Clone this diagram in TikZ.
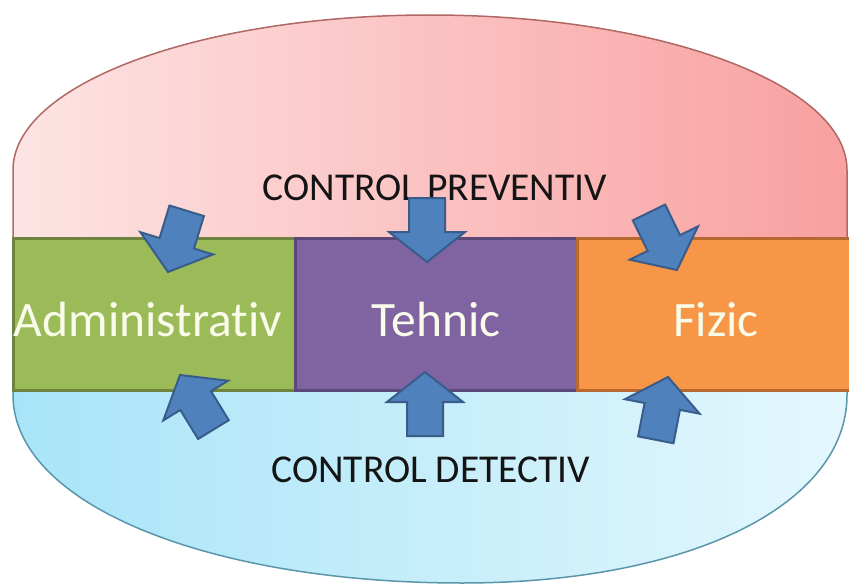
\documentclass[tikz,border=0pt]{standalone}
\usepackage{fontspec}
\setmainfont[Ligatures={NoCommon,NoRare,NoContextual}]{Carlito}
\definecolor{pinkL}{RGB}{253,228,228}
\definecolor{pinkR}{RGB}{249,160,160}
\definecolor{blueL}{RGB}{168,228,248}
\definecolor{blueR}{RGB}{228,247,253}
\definecolor{topedge}{RGB}{176,104,100}
\definecolor{botedge}{RGB}{90,150,170}
\definecolor{grfill}{RGB}{155,187,89}
\definecolor{grdraw}{RGB}{110,132,62}
\definecolor{pufill}{RGB}{128,100,162}
\definecolor{pudraw}{RGB}{92,72,120}
\definecolor{orfill}{RGB}{247,150,70}
\definecolor{ordraw}{RGB}{184,104,46}
\definecolor{arrowblue}{RGB}{79,129,189}
\definecolor{arrowedge}{RGB}{56,93,138}
\definecolor{boxtext}{RGB}{250,252,235}
\definecolor{ctrltext}{RGB}{20,20,20}
\tikzset{
  box/.style={draw, line width=3pt, minimum width=282pt, minimum height=152pt, inner sep=0pt,
    text=boxtext, font=\fontsize{49.5}{50}\selectfont},
  boxlabel/.style={text=boxtext, font=\fontsize{49.5}{50}\selectfont, inner sep=0pt, anchor=base},
  blockarrow/.style={fill=arrowblue, draw=arrowedge, line width=2pt, line join=miter},
  ctrl/.style={text=ctrltext, font=\fontsize{39.5}{40}\selectfont, inner sep=0pt, anchor=base},
  barrow/.pic={\path[blockarrow] (0,0) -- (-30,38) -- (-30,18) -- (-64,18) -- (-64,-18) -- (-30,-18) -- (-30,-38) -- cycle;}
}
\begin{document}
\begin{tikzpicture}[x=1pt,y=-1pt]
\useasboundingbox (0,0) rectangle (849,586);
% top (preventive) region
\path[draw=topedge, line width=1.5pt, left color=pinkL, right color=pinkR]
  (13,240) -- (13,170) .. controls (13,84) and (200,15) .. (430,15)
  .. controls (660,15) and (847,84) .. (847,170) -- (847,240) -- cycle;
% bottom (detective) region
\path[draw=botedge, line width=1.5pt, left color=blueL, right color=blueR]
  (13,388) -- (13,395) .. controls (13,505) and (210,583) .. (462,583)
  .. controls (690,583) and (847,505) .. (847,395) -- (847,388) -- cycle;
% boxes
\node[box, fill=grfill, draw=grdraw] (adm) at (154,314) {};
\node[box, fill=pufill, draw=pudraw] (teh) at (436,314) {};
\node[box, fill=orfill, draw=ordraw] (fiz) at (718,314) {};
\node[boxlabel] (admt) at (148,336) {Administrativ};
\node[boxlabel] (teht) at (436,336) {Tehnic};
\node[boxlabel] (fizt) at (716,336) {Fizic};
% labels
\node[ctrl] (prev) at (435,200) {CONTROL PREVENTIV};
\node[ctrl] (det) at (431,482) {CONTROL DETECTIV};
% block arrows
\pic[rotate=253] (a1) at (168,272) {barrow};
\pic[rotate=270] (a2) at (427,262) {barrow};
\pic[rotate=296] (a3) at (677,270) {barrow};
\pic[rotate=121.5] (a4) at (180,375) {barrow};
\pic[rotate=90] (a5) at (425,372) {barrow};
\pic[rotate=79] (a6) at (668,377) {barrow};
\end{tikzpicture}
\end{document}
